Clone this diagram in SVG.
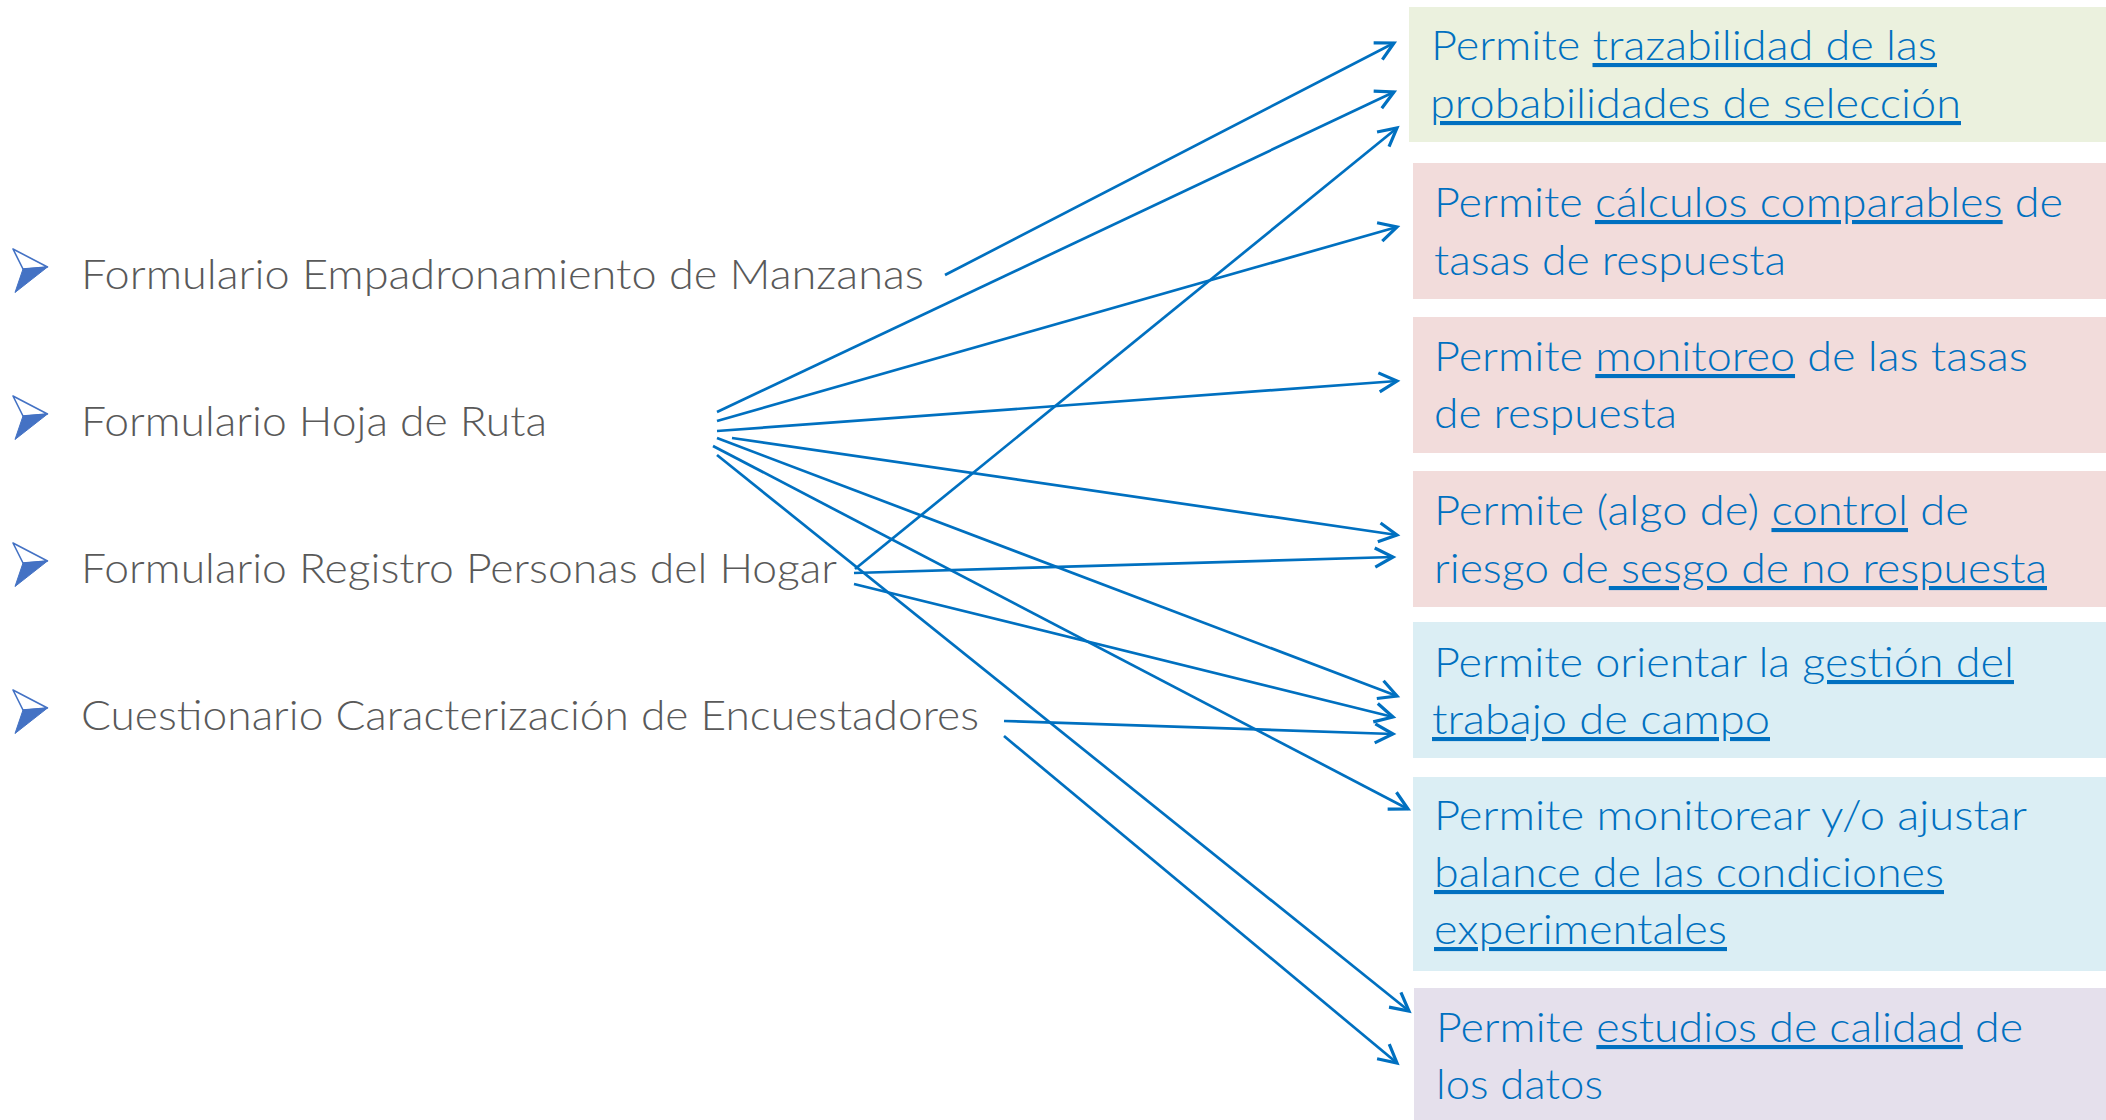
<svg xmlns="http://www.w3.org/2000/svg" width="2106" height="1120" viewBox="0 0 2106 1120">
<style>
.lt{font-family:Lato,"Liberation Sans",sans-serif;font-weight:300;font-size:41px;fill:#595959}
.rt{font-family:Lato,"Liberation Sans",sans-serif;font-weight:300;font-size:41px;fill:#0070C0}
.u{text-decoration:underline}
.conn{stroke:#0070C0;stroke-width:2.7;fill:none;marker-end:url(#ah)}
</style>
<defs>
<marker id="ah" markerUnits="userSpaceOnUse" orient="auto" overflow="visible" refX="0" refY="0" markerWidth="1" markerHeight="1">
<path d="M-18,-9.5 L0,0 L-18,9.5" fill="none" stroke="#0070C0" stroke-width="3.2" stroke-linejoin="miter"/>
</marker>
<g id="bullet">
<polygon points="0,0 34.5,18 10,20" fill="#FFFFFF" stroke="#4472C4" stroke-width="1.6" stroke-linejoin="round"/>
<polygon points="10,20 34.5,18 2,43.5" fill="#4472C4" stroke="#4472C4" stroke-width="1"/>
</g>
</defs>
<rect width="2106" height="1120" fill="#FFFFFF"/>

<g id="left-empadronamiento">
<use href="#bullet" x="13" y="249"/>
<text class="lt" x="81" y="289" textLength="843" lengthAdjust="spacingAndGlyphs">Formulario Empadronamiento de Manzanas</text>
</g>
<g id="left-hoja-ruta">
<use href="#bullet" x="13" y="396"/>
<text class="lt" x="81" y="436" textLength="466" lengthAdjust="spacingAndGlyphs">Formulario Hoja de Ruta</text>
</g>
<g id="left-registro">
<use href="#bullet" x="13" y="543"/>
<text class="lt" x="81" y="583" textLength="756" lengthAdjust="spacingAndGlyphs">Formulario Registro Personas del Hogar</text>
</g>
<g id="left-cuestionario">
<use href="#bullet" x="13" y="690"/>
<text class="lt" x="81" y="730" textLength="898" lengthAdjust="spacingAndGlyphs">Cuestionario Caracterización de Encuestadores</text>
</g>

<g id="box-trazabilidad">
<rect x="1409" y="7" width="697" height="135" fill="#EBF1DE"/>
<text class="rt" x="1431" y="60" textLength="506" lengthAdjust="spacingAndGlyphs">Permite <tspan class="u">trazabilidad de las</tspan></text>
<text class="rt u" x="1430" y="118" textLength="531" lengthAdjust="spacingAndGlyphs">probabilidades de selección</text>
</g>
<g id="box-calculos">
<rect x="1413" y="163" width="693" height="136" fill="#F2DCDB"/>
<text class="rt" x="1434" y="217" textLength="629" lengthAdjust="spacingAndGlyphs">Permite <tspan class="u">cálculos comparables</tspan> de</text>
<text class="rt" x="1434" y="275" textLength="352" lengthAdjust="spacingAndGlyphs">tasas de respuesta</text>
</g>
<g id="box-monitoreo">
<rect x="1413" y="317" width="693" height="136" fill="#F2DCDB"/>
<text class="rt" x="1434" y="371" textLength="594" lengthAdjust="spacingAndGlyphs">Permite <tspan class="u">monitoreo</tspan> de las tasas</text>
<text class="rt" x="1434" y="428" textLength="243" lengthAdjust="spacingAndGlyphs">de respuesta</text>
</g>
<g id="box-control">
<rect x="1413" y="471" width="693" height="136" fill="#F2DCDB"/>
<text class="rt" x="1434" y="525" textLength="535" lengthAdjust="spacingAndGlyphs">Permite (algo de) <tspan class="u">control</tspan> de</text>
<text class="rt" x="1434" y="583" textLength="613" lengthAdjust="spacingAndGlyphs">riesgo de<tspan class="u"> sesgo de no respuesta</tspan></text>
</g>
<g id="box-gestion">
<rect x="1413" y="622" width="693" height="136" fill="#DBEEF4"/>
<text class="rt" x="1434" y="677" textLength="580" lengthAdjust="spacingAndGlyphs">Permite orientar la <tspan class="u">gestión del</tspan></text>
<text class="rt u" x="1432" y="734" textLength="338" lengthAdjust="spacingAndGlyphs">trabajo de campo</text>
</g>
<g id="box-balance">
<rect x="1413" y="777" width="693" height="194" fill="#DBEEF4"/>
<text class="rt" x="1434" y="830" textLength="593" lengthAdjust="spacingAndGlyphs">Permite monitorear y/o ajustar</text>
<text class="rt u" x="1434" y="887" textLength="510" lengthAdjust="spacingAndGlyphs">balance de las condiciones</text>
<text class="rt u" x="1434" y="944" textLength="293" lengthAdjust="spacingAndGlyphs">experimentales</text>
</g>
<g id="box-calidad">
<rect x="1414" y="988" width="692" height="132" fill="#E5E0EC"/>
<text class="rt" x="1436" y="1042" textLength="587" lengthAdjust="spacingAndGlyphs">Permite <tspan class="u">estudios de calidad</tspan> de</text>
<text class="rt" x="1436" y="1099" textLength="167" lengthAdjust="spacingAndGlyphs">los datos</text>
</g>

<g id="connectors">
<line class="conn" x1="945" y1="275" x2="1394" y2="43"/>
<line class="conn" x1="717" y1="412" x2="1394" y2="92"/>
<line class="conn" x1="717" y1="421" x2="1397" y2="227"/>
<line class="conn" x1="717" y1="431" x2="1397" y2="381"/>
<line class="conn" x1="732" y1="438" x2="1397" y2="535"/>
<line class="conn" x1="717" y1="438" x2="1397" y2="696"/>
<line class="conn" x1="713" y1="446" x2="1408" y2="809"/>
<line class="conn" x1="717" y1="455" x2="1409" y2="1011"/>
<line class="conn" x1="855" y1="569" x2="1397" y2="128"/>
<line class="conn" x1="854" y1="573" x2="1393" y2="557"/>
<line class="conn" x1="854" y1="584" x2="1393" y2="717"/>
<line class="conn" x1="1004" y1="721" x2="1393" y2="734"/>
<line class="conn" x1="1004" y1="736" x2="1397" y2="1063"/>
</g>
</svg>
